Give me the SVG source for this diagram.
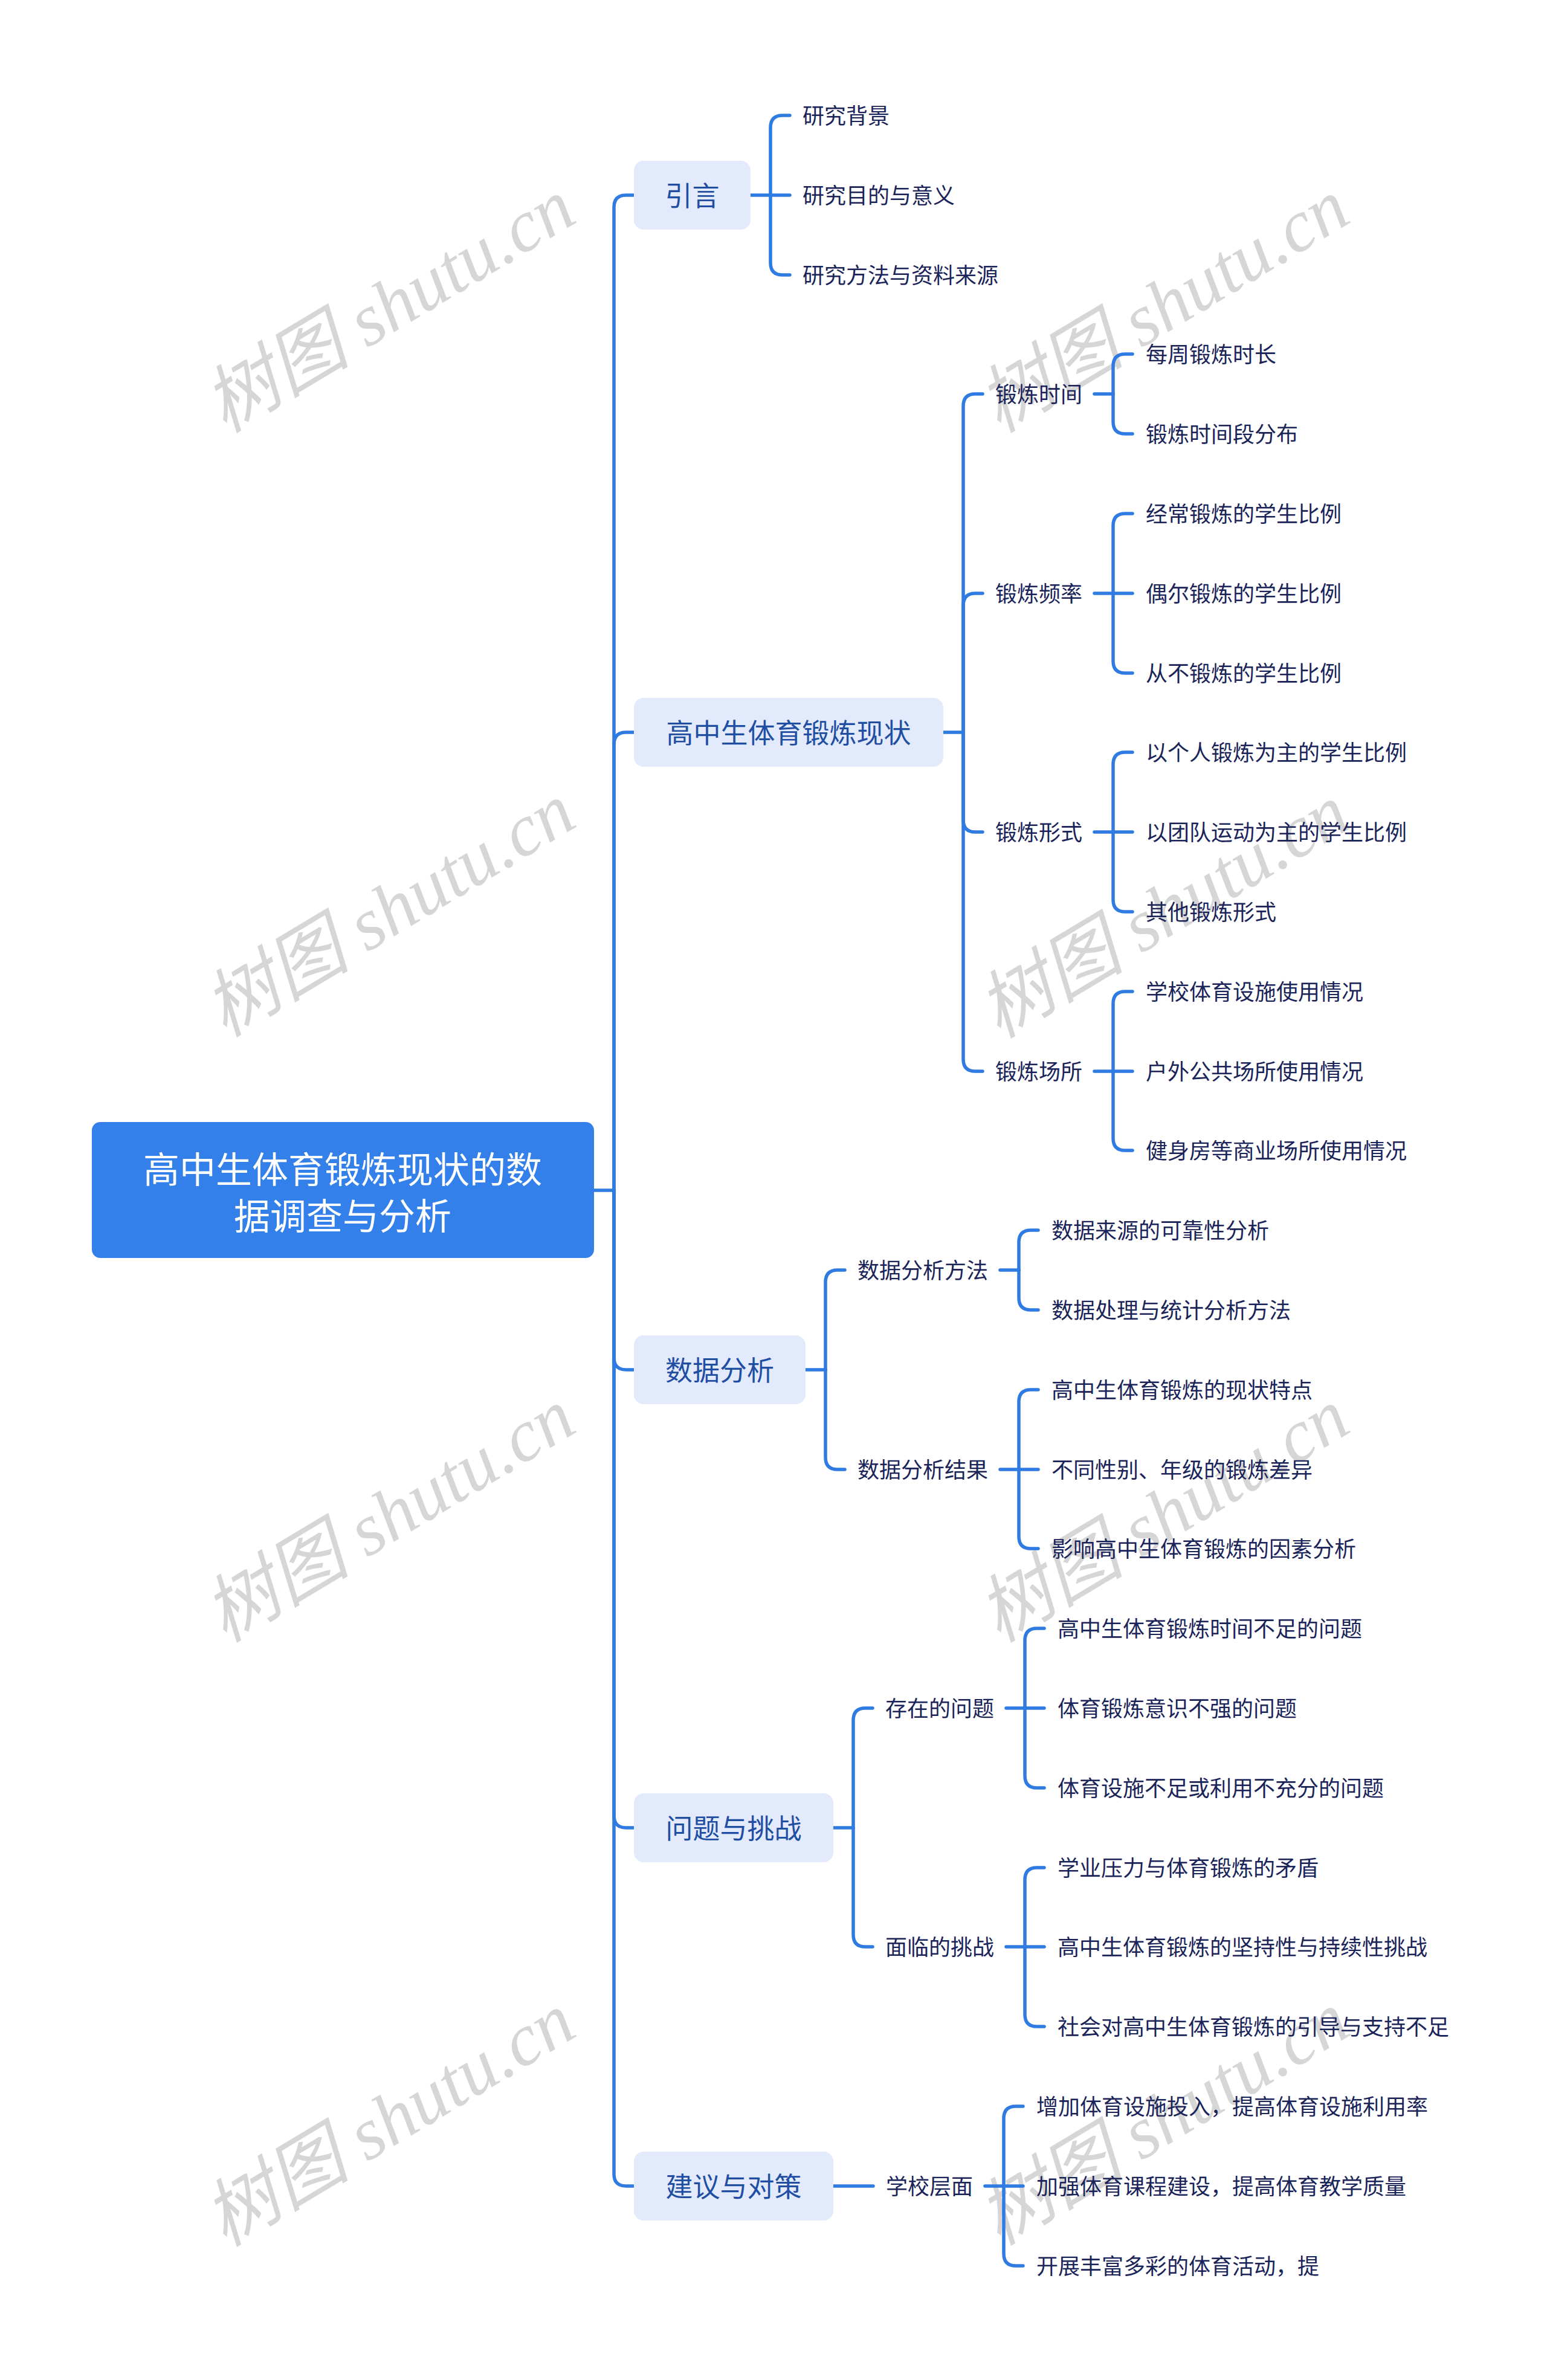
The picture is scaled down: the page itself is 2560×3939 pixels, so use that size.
<svg xmlns="http://www.w3.org/2000/svg" width="2560" height="3939" viewBox="0 0 2560 3939">
<style>
.wm{font-family:"Liberation Serif","Noto Sans CJK SC",serif;font-style:italic;font-size:122px;fill:#d6d6d6;text-anchor:middle;dominant-baseline:central}
.conn path{fill:none;stroke:#2f7be2;stroke-width:5.5;stroke-linecap:round}
.root rect{fill:#3380ea}
.root text{font-family:"Noto Sans CJK SC","Noto Sans",sans-serif;font-size:60px;fill:#ffffff;text-anchor:middle;dominant-baseline:central}
.l1 rect{fill:#e2eafb}
.l1 text{font-family:"Noto Sans CJK SC","Noto Sans",sans-serif;font-size:45px;fill:#1f4ea3;text-anchor:middle;dominant-baseline:central}
.t text{font-family:"Noto Sans CJK SC","Noto Sans",sans-serif;font-size:36px;fill:#1a2459;dominant-baseline:central}
</style>
<rect width="2560" height="3939" fill="#ffffff"/>
<g id="watermarks">
<text class="wm" transform="rotate(-31 644 506)" x="644" y="506">树图 shutu.cn</text>
<text class="wm" transform="rotate(-31 644 1506)" x="644" y="1506">树图 shutu.cn</text>
<text class="wm" transform="rotate(-31 644 2508)" x="644" y="2508">树图 shutu.cn</text>
<text class="wm" transform="rotate(-31 644 3508)" x="644" y="3508">树图 shutu.cn</text>
<text class="wm" transform="rotate(-31 1925 506)" x="1925" y="506">树图 shutu.cn</text>
<text class="wm" transform="rotate(-31 1925 1508)" x="1925" y="1508">树图 shutu.cn</text>
<text class="wm" transform="rotate(-31 1925 2508)" x="1925" y="2508">树图 shutu.cn</text>
<text class="wm" transform="rotate(-31 1925 3506)" x="1925" y="3506">树图 shutu.cn</text>
</g>
<g id="connectors" class="conn">
<path d="M983,1970 H1016"/>
<path d="M1016,1970 V343 Q1016,323 1036,323 H1049"/>
<path d="M1016,1970 V1232 Q1016,1212 1036,1212 H1049"/>
<path d="M1016,1970 V2247 Q1016,2267 1036,2267 H1049"/>
<path d="M1016,1970 V3005 Q1016,3025 1036,3025 H1049"/>
<path d="M1016,1970 V3598 Q1016,3618 1036,3618 H1049"/>
<path d="M1242,323 H1275"/>
<path d="M1275,323 V211 Q1275,191 1295,191 H1307"/>
<path d="M1275,323 H1307"/>
<path d="M1275,323 V435 Q1275,455 1295,455 H1307"/>
<path d="M1561,1212 H1594"/>
<path d="M1594,1212 V672 Q1594,652 1614,652 H1626"/>
<path d="M1594,1212 V1002 Q1594,982 1614,982 H1626"/>
<path d="M1594,1212 V1357 Q1594,1377 1614,1377 H1626"/>
<path d="M1594,1212 V1753 Q1594,1773 1614,1773 H1626"/>
<path d="M1811,652 H1842"/>
<path d="M1842,652 V606 Q1842,586 1862,586 H1874"/>
<path d="M1842,652 V698 Q1842,718 1862,718 H1874"/>
<path d="M1811,982 H1842"/>
<path d="M1842,982 V870 Q1842,850 1862,850 H1874"/>
<path d="M1842,982 H1874"/>
<path d="M1842,982 V1094 Q1842,1114 1862,1114 H1874"/>
<path d="M1811,1377 H1842"/>
<path d="M1842,1377 V1265 Q1842,1245 1862,1245 H1874"/>
<path d="M1842,1377 H1874"/>
<path d="M1842,1377 V1489 Q1842,1509 1862,1509 H1874"/>
<path d="M1811,1773 H1842"/>
<path d="M1842,1773 V1661 Q1842,1641 1862,1641 H1874"/>
<path d="M1842,1773 H1874"/>
<path d="M1842,1773 V1884 Q1842,1904 1862,1904 H1874"/>
<path d="M1333,2267 H1366"/>
<path d="M1366,2267 V2122 Q1366,2102 1386,2102 H1398"/>
<path d="M1366,2267 V2412 Q1366,2432 1386,2432 H1398"/>
<path d="M1655,2102 H1686"/>
<path d="M1686,2102 V2056 Q1686,2036 1706,2036 H1718"/>
<path d="M1686,2102 V2148 Q1686,2168 1706,2168 H1718"/>
<path d="M1655,2432 H1686"/>
<path d="M1686,2432 V2320 Q1686,2300 1706,2300 H1718"/>
<path d="M1686,2432 H1718"/>
<path d="M1686,2432 V2543 Q1686,2563 1706,2563 H1718"/>
<path d="M1379,3025 H1412"/>
<path d="M1412,3025 V2847 Q1412,2827 1432,2827 H1444"/>
<path d="M1412,3025 V3202 Q1412,3222 1432,3222 H1444"/>
<path d="M1665,2827 H1696"/>
<path d="M1696,2827 V2715 Q1696,2695 1716,2695 H1728"/>
<path d="M1696,2827 H1728"/>
<path d="M1696,2827 V2939 Q1696,2959 1716,2959 H1728"/>
<path d="M1665,3222 H1696"/>
<path d="M1696,3222 V3111 Q1696,3091 1716,3091 H1728"/>
<path d="M1696,3222 H1728"/>
<path d="M1696,3222 V3334 Q1696,3354 1716,3354 H1728"/>
<path d="M1379,3618 H1445"/>
<path d="M1630,3618 H1661"/>
<path d="M1661,3618 V3506 Q1661,3486 1681,3486 H1693"/>
<path d="M1661,3618 H1693"/>
<path d="M1661,3618 V3730 Q1661,3750 1681,3750 H1693"/>
</g>
<g id="root" class="root">
<rect x="152" y="1857" width="831" height="225" rx="14"/>
<text x="567" y="1931">高中生体育锻炼现状的数</text>
<text x="567" y="2008">据调查与分析</text>
</g>
<g id="n-yinyan" class="l1"><rect x="1049" y="266" width="193" height="114" rx="16"/><text x="1145.5" y="321">引言</text></g>
<g id="n-xianzhuang" class="l1"><rect x="1049" y="1155" width="512" height="114" rx="16"/><text x="1305" y="1210">高中生体育锻炼现状</text></g>
<g id="n-shujufenxi" class="l1"><rect x="1049" y="2210" width="284" height="114" rx="16"/><text x="1191" y="2265">数据分析</text></g>
<g id="n-wenti" class="l1"><rect x="1049" y="2968" width="330" height="114" rx="16"/><text x="1214" y="3023">问题与挑战</text></g>
<g id="n-jianyi" class="l1"><rect x="1049" y="3561" width="330" height="114" rx="16"/><text x="1214" y="3616">建议与对策</text></g>
<g id="n-yinyan-c" class="t">
<text x="1328" y="189">研究背景</text>
<text x="1328" y="321">研究目的与意义</text>
<text x="1328" y="453">研究方法与资料来源</text>
</g>
<g id="n-shijian" class="t">
<text x="1647" y="650">锻炼时间</text>
<text x="1896" y="584">每周锻炼时长</text>
<text x="1896" y="716">锻炼时间段分布</text>
</g>
<g id="n-pinlv" class="t">
<text x="1647" y="980">锻炼频率</text>
<text x="1896" y="848">经常锻炼的学生比例</text>
<text x="1896" y="980">偶尔锻炼的学生比例</text>
<text x="1896" y="1112">从不锻炼的学生比例</text>
</g>
<g id="n-xingshi" class="t">
<text x="1647" y="1375">锻炼形式</text>
<text x="1896" y="1243">以个人锻炼为主的学生比例</text>
<text x="1896" y="1375">以团队运动为主的学生比例</text>
<text x="1896" y="1507">其他锻炼形式</text>
</g>
<g id="n-changsuo" class="t">
<text x="1647" y="1771">锻炼场所</text>
<text x="1896" y="1639">学校体育设施使用情况</text>
<text x="1896" y="1771">户外公共场所使用情况</text>
<text x="1896" y="1902">健身房等商业场所使用情况</text>
</g>
<g id="n-fangfa" class="t">
<text x="1419" y="2100">数据分析方法</text>
<text x="1740" y="2034">数据来源的可靠性分析</text>
<text x="1740" y="2166">数据处理与统计分析方法</text>
</g>
<g id="n-jieguo" class="t">
<text x="1419" y="2430">数据分析结果</text>
<text x="1740" y="2298">高中生体育锻炼的现状特点</text>
<text x="1740" y="2430">不同性别、年级的锻炼差异</text>
<text x="1740" y="2561">影响高中生体育锻炼的因素分析</text>
</g>
<g id="n-cunzai" class="t">
<text x="1465" y="2825">存在的问题</text>
<text x="1750" y="2693">高中生体育锻炼时间不足的问题</text>
<text x="1750" y="2825">体育锻炼意识不强的问题</text>
<text x="1750" y="2957">体育设施不足或利用不充分的问题</text>
</g>
<g id="n-tiaozhan" class="t">
<text x="1465" y="3220">面临的挑战</text>
<text x="1750" y="3089">学业压力与体育锻炼的矛盾</text>
<text x="1750" y="3220">高中生体育锻炼的坚持性与持续性挑战</text>
<text x="1750" y="3352">社会对高中生体育锻炼的引导与支持不足</text>
</g>
<g id="n-xuexiao" class="t">
<text x="1466" y="3616">学校层面</text>
<text x="1715" y="3484">增加体育设施投入，提高体育设施利用率</text>
<text x="1715" y="3616">加强体育课程建设，提高体育教学质量</text>
<text x="1715" y="3748">开展丰富多彩的体育活动，提</text>
</g>
</svg>
